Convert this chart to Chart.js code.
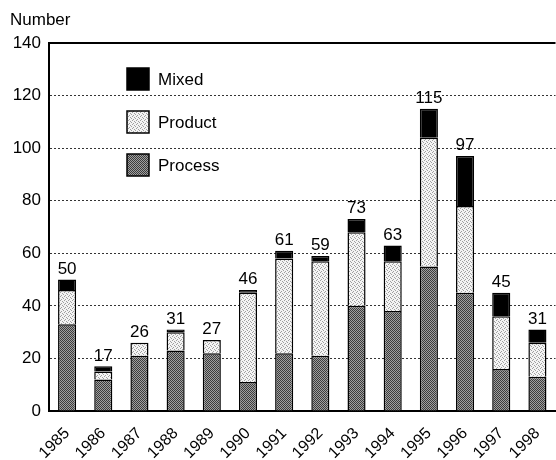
<!DOCTYPE html>
<html>
<head>
<meta charset="utf-8">
<script src="https://cdn.jsdelivr.net/npm/chart.js@4"></script>
<style>
  body { margin: 0; background: #fff; overflow: hidden; }
  #wrap { width: 556px; height: 460px; }
</style>
</head>
<body>
<div id="wrap"><canvas id="chart"></canvas></div>
<script>
// Data
const years = ['1985', '1986', '1987', '1988', '1989', '1990', '1991', '1992', '1993', '1994', '1995', '1996', '1997', '1998'];
const processValues = [33, 12, 21, 23, 22, 11, 22, 21, 40, 38, 55, 45, 16, 13];
const productValues = [13, 3, 5, 7, 5, 34, 36, 36, 28, 19, 49, 33, 20, 13];
const mixedValues = [4, 2, 0, 1, 0, 1, 3, 2, 5, 6, 11, 19, 9, 5];
const totals = [50, 17, 26, 31, 27, 46, 61, 59, 73, 63, 115, 97, 45, 31];
const yTicks = [0, 20, 40, 60, 80, 100, 120, 140];

const FONT = 'Arial, "Liberation Sans", sans-serif';

// Small stipple tiles to imitate the printed textures
function makePattern(bg, fg, cells) {
    const tile = document.createElement('canvas');
    tile.width = 4;
    tile.height = 4;
    const t = tile.getContext('2d');
    t.fillStyle = bg;
    t.fillRect(0, 0, 4, 4);
    t.fillStyle = fg;
    cells.forEach(([x, y]) => t.fillRect(x, y, 1, 1));
    return document.getElementById('chart').getContext('2d').createPattern(tile, 'repeat');
}

const processFill = makePattern('#a0a0a0', '#3c3c3c', [[0, 0], [2, 0], [1, 1], [3, 1], [0, 2], [2, 2], [1, 3], [3, 3]]);
const productFill = makePattern('#f4f4f4', '#a0a0a0', [[0, 0], [2, 1], [1, 3], [3, 2]]);
const mixedFill = '#000';

const legendItems = [
    { label: 'Mixed', fill: mixedFill },
    { label: 'Product', fill: productFill },
    { label: 'Process', fill: processFill }
];

const extras = {
    id: 'extras',
    afterDatasetsDraw(chart) {
        const { ctx, chartArea, scales: { x, y } } = chart;
        ctx.save();

        // solid frame line at the top
        ctx.strokeStyle = '#000';
        ctx.lineWidth = 2;
        ctx.beginPath();
        ctx.moveTo(chartArea.left, chartArea.top);
        ctx.lineTo(chartArea.right, chartArea.top);
        ctx.stroke();

        // totals above each bar
        ctx.fillStyle = '#000';
        ctx.font = '17px ' + FONT;
        ctx.textAlign = 'center';
        ctx.textBaseline = 'bottom';
        totals.forEach((t, i) => {
            ctx.fillText(String(t), x.getPixelForValue(i), y.getPixelForValue(t) - 2);
        });

        // axis title
        ctx.textAlign = 'left';
        ctx.textBaseline = 'alphabetic';
        ctx.fillText('Number', 10, 25);

        // legend inside the plot
        ctx.font = '17px ' + FONT;
        ctx.textBaseline = 'middle';
        legendItems.forEach((item, i) => {
            const bx = 127, by = 68 + i * 43;
            ctx.fillStyle = item.fill;
            ctx.fillRect(bx, by, 22, 22);
            ctx.strokeStyle = '#000';
            ctx.lineWidth = 1.5;
            ctx.strokeRect(bx, by, 22, 22);
            ctx.fillStyle = '#000';
            ctx.fillText(item.label, 158, by + 12);
        });
        ctx.restore();
    }
};

function barSet(label, data, fill) {
    return {
        label: label,
        data: data,
        backgroundColor: fill,
        borderColor: '#000',
        borderWidth: 1.5,
        barPercentage: 0.5,
        categoryPercentage: 1
    };
}

new Chart(document.getElementById('chart'), {
    type: 'bar',
    data: {
        labels: years,
        datasets: [
            barSet('Process', processValues, processFill),
            barSet('Product', productValues, productFill),
            barSet('Mixed', mixedValues, mixedFill)
        ]
    },
    options: {
        responsive: true,
        maintainAspectRatio: false,
        animation: false,
        layout: { padding: { top: 43, right: 0, left: 0, bottom: 0 } },
        plugins: {
            legend: { display: false },
            tooltip: { enabled: false }
        },
        scales: {
            x: {
                stacked: true,
                offset: true,
                grid: { display: false },
                border: { display: true, color: '#000', width: 2 },
                ticks: {
                    color: '#000',
                    font: { family: FONT, size: 16 },
                    minRotation: 45,
                    maxRotation: 45,
                    padding: 5
                },
                afterFit(scale) { scale.height = 49; }
            },
            y: {
                stacked: true,
                min: 0,
                max: 140,
                afterBuildTicks(scale) { scale.ticks = yTicks.map(v => ({ value: v })); },
                grid: {
                    drawTicks: false,
                    color: c => (c.tick && (c.tick.value === 0 || c.tick.value === 140)) ? 'rgba(0,0,0,0)' : '#333',
                    lineWidth: 1
                },
                border: { display: true, color: '#000', width: 2, dash: [2, 2] },
                ticks: {
                    color: '#000',
                    font: { family: FONT, size: 17 },
                    padding: 8
                },
                afterFit(scale) { scale.width = 49; }
            }
        }
    },
    plugins: [extras]
});
</script>
</body>
</html>
